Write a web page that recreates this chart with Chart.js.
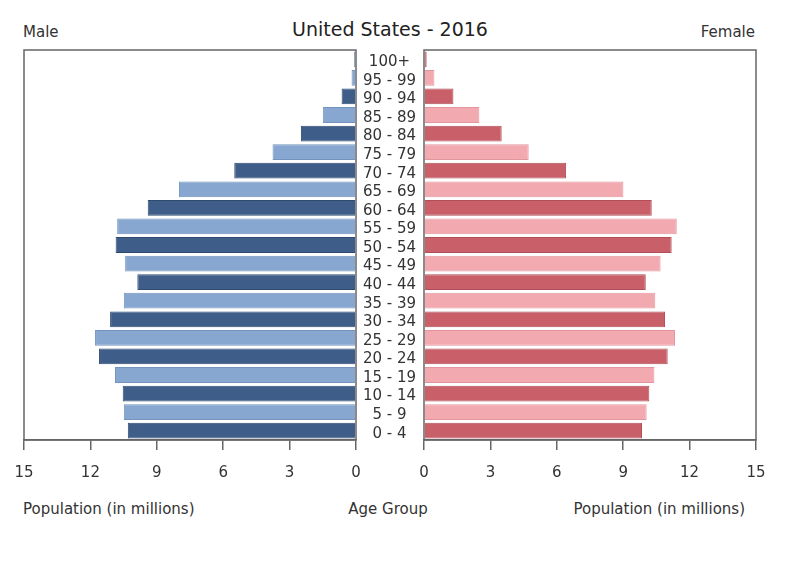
<!DOCTYPE html>
<html>
<head>
<meta charset="utf-8">
<script src="https://cdn.jsdelivr.net/npm/chart.js@4.4.1/dist/chart.umd.min.js"></script>
<style>
  html, body { margin:0; padding:0; background:#fff; }
  body { width:802px; height:567px; position:relative; overflow:hidden; font-family:"DejaVu Sans", sans-serif; color:#333; }
  canvas { position:absolute; top:0; }
  .txt { position:absolute; white-space:nowrap; line-height:1; }
</style>
</head>
<body>
<div class="txt" style="left:23px; top:25px; font-size:15px;">Male</div>
<div class="txt" style="left:0; width:780px; text-align:center; top:20px; font-size:19px; color:#222;">United States - 2016</div>
<div class="txt" style="right:47px; top:25px; font-size:15px;">Female</div>
<div class="txt" style="left:23px; top:502px; font-size:15px;">Population (in millions)</div>
<div class="txt" style="left:0; width:776px; text-align:center; top:502px; font-size:15px;">Age Group</div>
<div class="txt" style="right:57px; top:502px; font-size:15px;">Population (in millions)</div>
<div id="wl" style="position:absolute; left:0; top:0; width:380px; height:567px;"><canvas id="left"></canvas></div>
<div id="wr" style="position:absolute; left:356px; top:0; width:446px; height:567px;"><canvas id="right"></canvas></div>
<script>
const ageGroups = ["100+","95 - 99","90 - 94","85 - 89","80 - 84","75 - 79","70 - 74","65 - 69","60 - 64","55 - 59","50 - 54","45 - 49","40 - 44","35 - 39","30 - 34","25 - 29","20 - 24","15 - 19","10 - 14","5 - 9","0 - 4"];
const maleValues = [0.08, 0.2, 0.65, 1.5, 2.49, 3.77, 5.5, 8.0, 9.41, 10.79, 10.86, 10.43, 9.88, 10.49, 11.11, 11.79, 11.61, 10.89, 10.54, 10.49, 10.31];
const femaleValues = [0.12, 0.47, 1.33, 2.5, 3.51, 4.73, 6.42, 9.01, 10.29, 11.42, 11.19, 10.69, 10.02, 10.45, 10.89, 11.34, 11.01, 10.41, 10.18, 10.06, 9.85];
const xTicks = [0, 3, 6, 9, 12, 15];

const maleDark = '#3e5d88', maleLight = '#87a7d0';
const femaleDark = '#c95f68', femaleLight = '#f2a9b0';
const maleColors = ageGroups.map((_, i) => i % 2 === 0 ? maleDark : maleLight);
const maleBorders = ageGroups.map((_, i) => i % 2 === 0 ? '#2f4b70' : '#7193bd');
const femaleColors = ageGroups.map((_, i) => i % 2 === 0 ? femaleDark : femaleLight);
const femaleBorders = ageGroups.map((_, i) => i % 2 === 0 ? '#b04f58' : '#e3959d');

const boxPlugin = {
  id: 'box',
  afterDraw(chart) {
    const a = chart.chartArea, ctx = chart.ctx;
    ctx.save();
    ctx.strokeStyle = '#666';
    ctx.lineWidth = 1.5;
    ctx.strokeRect(a.left, a.top, a.right - a.left, a.bottom - a.top);
    ctx.restore();
  }
};

const font = { family: '"DejaVu Sans", sans-serif', size: 15 };

function xScale(reverse) {
  return {
    type: 'linear', min: 0, max: 15, reverse: reverse,
    afterBuildTicks: s => { s.ticks = xTicks.map(v => ({ value: v })); },
    ticks: { color: '#333', font: font, padding: 14, maxRotation: 0, autoSkip: false },
    grid: { drawOnChartArea: false, drawTicks: true, tickLength: 10, color: '#666', lineWidth: 1.5 },
    border: { display: true, color: '#666', width: 1.5 },
    afterFit: s => { s.height = 60; }
  };
}

Chart.defaults.font.family = '"DejaVu Sans", sans-serif';

new Chart(document.getElementById('left'), {
  type: 'bar',
  data: { labels: ageGroups, datasets: [{ data: maleValues, backgroundColor: maleColors, borderColor: maleBorders, borderWidth: 1, categoryPercentage: 0.85, barPercentage: 1 }] },
  options: {
    indexAxis: 'y', responsive: true, maintainAspectRatio: false, animation: false,
    layout: { padding: { left: 24, right: 24, top: 50, bottom: 67 } },
    plugins: { legend: { display: false }, tooltip: { enabled: false } },
    scales: { x: xScale(true), y: { display: false } }
  },
  plugins: [boxPlugin]
});

new Chart(document.getElementById('right'), {
  type: 'bar',
  data: { labels: ageGroups, datasets: [{ data: femaleValues, backgroundColor: femaleColors, borderColor: femaleBorders, borderWidth: 1, categoryPercentage: 0.85, barPercentage: 1 }] },
  options: {
    indexAxis: 'y', responsive: true, maintainAspectRatio: false, animation: false,
    layout: { padding: { left: 0, right: 46, top: 50, bottom: 67 } },
    plugins: { legend: { display: false }, tooltip: { enabled: false } },
    scales: {
      x: xScale(false),
      y: {
        position: 'left',
        ticks: { color: '#333', font: font, padding: 8, crossAlign: 'center', autoSkip: false, labelOffset: 3 },
        grid: { display: false, drawTicks: false },
        border: { display: false },
        afterFit: s => { s.width = 68; }
      }
    }
  },
  plugins: [boxPlugin]
});
</script>
</body>
</html>
